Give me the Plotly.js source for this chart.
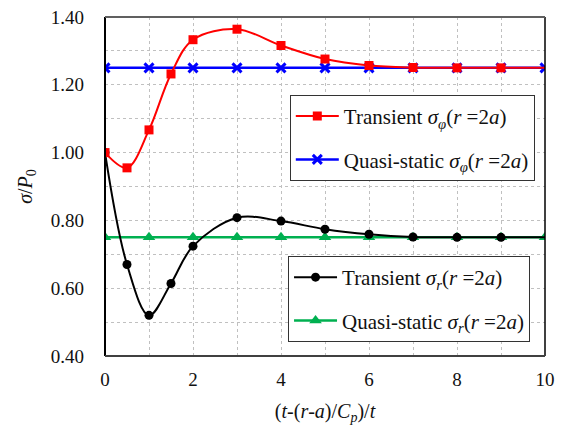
<!DOCTYPE html>
<html><head><meta charset="utf-8">
<script src="https://cdn.plot.ly/plotly-3.0.1.min.js"></script>
<style>html,body{margin:0;padding:0;background:#fff;}#chart{width:570px;height:430px;}</style>
</head><body><div id="chart"></div>
<script>
var xTransient = [0, 0.5, 1, 1.5, 2, 3, 4, 5, 6, 7, 8, 9, 10];
var sigmaPhiTransient = [1.00, 0.955, 1.067, 1.232, 1.333, 1.364, 1.316, 1.276, 1.257, 1.251, 1.250, 1.250, 1.250];
var sigmaRTransient = [1.00, 0.670, 0.520, 0.614, 0.724, 0.808, 0.798, 0.774, 0.759, 0.751, 0.750, 0.750, 0.750];
var xQuasi = [0, 1, 2, 3, 4, 5, 6, 7, 8, 9, 10];
var sigmaPhiQuasi = [1.25, 1.25, 1.25, 1.25, 1.25, 1.25, 1.25, 1.25, 1.25, 1.25, 1.25];
var sigmaRQuasi = [0.75, 0.75, 0.75, 0.75, 0.75, 0.75, 0.75, 0.75, 0.75, 0.75, 0.75];
var xTickVals = [0, 2, 4, 6, 8, 10];
var yTickVals = [0.4, 0.6, 0.8, 1.0, 1.2, 1.4];

function hideLast(n, c) { var a = []; for (var i = 0; i < n; i++) a.push(i === n - 1 ? 'rgba(0,0,0,0)' : c); return a; }

var font = "'Liberation Serif', 'Times New Roman', serif";
var traces = [
  {x: xQuasi, y: sigmaRQuasi, mode: 'lines+markers', name: 'Quasi-static <i>σ<sub>r</sub></i>(<i>r</i> =2<i>a</i>)',
   line: {color: '#00b050', width: 2.5}, marker: {symbol: 'triangle-up', size: 11, color: '#00b050'},
   legend: 'legend2', legendgroup: 'g4', legendrank: 2},
  {x: xTransient, y: sigmaRTransient, mode: 'lines+markers', name: 'Transient <i>σ<sub>r</sub></i>(<i>r</i> =2<i>a</i>)',
   line: {color: '#000000', width: 2, shape: 'spline', smoothing: 1}, marker: {symbol: 'circle', size: 9, color: hideLast(xTransient.length, '#000000')},
   legend: 'legend2', legendgroup: 'g3', legendrank: 1},
  {x: xQuasi, y: sigmaPhiQuasi, mode: 'lines+markers', name: 'Quasi-static <i>σ<sub>φ</sub></i>(<i>r</i> =2<i>a</i>)',
   line: {color: '#0000ff', width: 2.5}, marker: {symbol: 'x-thin', size: 9, line: {color: '#0000ff', width: 3}, color: '#0000ff'},
   legend: 'legend', legendgroup: 'g2', legendrank: 2},
  {x: xTransient, y: sigmaPhiTransient, mode: 'lines+markers', name: 'Transient <i>σ<sub>φ</sub></i>(<i>r</i> =2<i>a</i>)',
   line: {color: '#ff0000', width: 2, shape: 'spline', smoothing: 1}, marker: {symbol: 'square', size: 9, color: hideLast(xTransient.length, '#ff0000')},
   legend: 'legend', legendgroup: 'g1', legendrank: 1}
];

var legendBase = {bgcolor: '#ffffff', bordercolor: '#333333', borderwidth: 1, font: {family: font, size: 21, color: '#111'},
  traceorder: 'grouped', tracegroupgap: 13, xanchor: 'left', yanchor: 'top', itemwidth: 43};

var layout = {
  width: 570, height: 430,
  margin: {l: 105, r: 25, t: 17, b: 74},
  paper_bgcolor: '#ffffff', plot_bgcolor: '#ffffff',
  showlegend: true,
  font: {family: font, size: 19, color: '#111'},
  xaxis: {range: [0, 10], tickvals: xTickVals, ticktext: xTickVals.map(String), showgrid: true,
    gridcolor: '#c0c0c0', griddash: 'dot', gridwidth: 1,
    minor: {dtick: 1, showgrid: true, gridcolor: '#c0c0c0', griddash: 'dot', gridwidth: 1},
    showline: false, zeroline: false, ticks: '', ticklen: 0, ticklabelstandoff: 10,
    tickfont: {family: font, size: 19, color: '#111'},
    title: {text: '(<i>t</i>-(<i>r</i>-<i>a</i>)/<i>C<sub>p</sub></i>)/<i>t</i>', font: {family: font, size: 20, color: '#111'}, standoff: 14}},
  yaxis: {range: [0.4, 1.4], tickvals: yTickVals, ticktext: yTickVals.map(function(v){return v.toFixed(2);}), showgrid: true,
    gridcolor: '#c0c0c0', griddash: 'dot', gridwidth: 1,
    minor: {dtick: 0.1, showgrid: true, gridcolor: '#c0c0c0', griddash: 'dot', gridwidth: 1},
    showline: false, zeroline: false, ticks: '', ticklen: 0, ticklabelstandoff: 20,
    tickfont: {family: font, size: 19, color: '#111'},
    title: {text: '<i>σ</i>/<i>P</i><sub>0</sub>', font: {family: font, size: 20, color: '#111'}, standoff: 12}},
  legend: Object.assign({}, legendBase, {x: 0.42, y: 0.77}),
  legend2: Object.assign({}, legendBase, {x: 0.416, y: 0.295}),
  shapes: [
    {type: 'line', xref: 'paper', yref: 'paper', x0: 0, x1: 0, y0: 0, y1: 1, line: {color: '#000', width: 2}},
    {type: 'line', xref: 'paper', yref: 'paper', x0: 1, x1: 1, y0: 0, y1: 1, line: {color: '#000', width: 1.5}},
    {type: 'line', xref: 'paper', yref: 'paper', x0: 0, x1: 1, y0: 0, y1: 0, line: {color: '#404040', width: 2}},
    {type: 'line', xref: 'paper', yref: 'paper', x0: 0, x1: 1, y0: 1, y1: 1, line: {color: '#606060', width: 2}}
  ]
};
Plotly.newPlot('chart', traces, layout, {displayModeBar: false, staticPlot: true});
</script></body></html>
